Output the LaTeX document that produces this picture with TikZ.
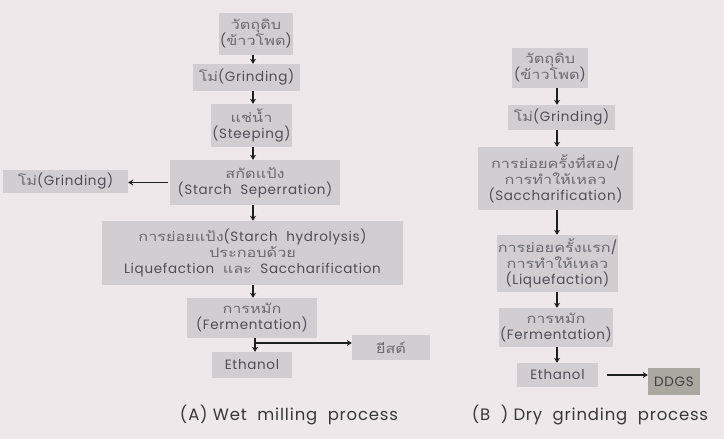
\documentclass[tikz,border=0pt]{standalone}
\usepackage{fontspec}
\setmainfont[LetterSpace=5]{Poppins}
\newfontfamily\thaifont[Script=Thai, FakeStretch=1.25]{Loma}
\newcommand{\thx}[1]{{\thaifont\fontsize{13}{16}\selectfont\color{thc}#1}}
\usetikzlibrary{arrows.meta,calc}
\definecolor{bg}{HTML}{EEE8EA}
\definecolor{boxc}{HTML}{D2CDD0}
\definecolor{ddg}{HTML}{ABA8A2}
\definecolor{txt}{HTML}{4E4E58}
\definecolor{thc}{HTML}{6A6A72}
\tikzset{
  stepbox/.style={fill=boxc, inner sep=1pt, align=center, text=txt, font=\fontsize{13.5}{16}\selectfont},
  flow/.style={-{Stealth[length=5pt,width=6pt]}, line width=1.5pt, black!88},
  captxt/.style={font=\fontsize{16.5}{18}\selectfont, text=black!78}
}
\begin{document}
\begin{tikzpicture}[x=1pt,y=-1pt]
\fill[bg] (0,0) rectangle (724,439);
\useasboundingbox (0,0) rectangle (724,439);
% (A)
\node[stepbox, minimum width=68pt, minimum height=42pt] (a1) at (256,34) {\thx{วัตถุดิบ}\\(\thx{ข้าวโพด})};
\node[stepbox, minimum width=107pt, minimum height=27pt] (a2) at (246.5,77.5) {\thx{โม่}(Grinding)};
\node[stepbox, minimum width=67pt, minimum height=43pt] (a3) at (251.5,125.5) {\thx{แช่น้ำ}\\(Steeping)};
\node[stepbox, minimum width=170pt, minimum height=45pt] (a4) at (255,182.5) {\thx{สกัดแป้ง}\\(Starch\ \ Seperration)};
\node[stepbox, minimum width=125pt, minimum height=23pt] (a4l) at (65.5,181.5) {\thx{โม่}(Grinding)};
\node[stepbox, minimum width=301pt, minimum height=64pt] (a5) at (252.5,253) {\thx{การย่อยแป้ง}(Starch\ \ hydrolysis)\\\thx{ประกอบด้วย}\\Liquefaction\ \ \thx{และ}\ \ Saccharification};
\node[stepbox, minimum width=130pt, minimum height=40pt] (a6) at (252,318) {\thx{การหมัก}\\(Fermentation)};
\node[stepbox, minimum width=80pt, minimum height=26pt] (a7) at (252,365) {Ethanol};
\node[stepbox, minimum width=78pt, minimum height=25pt] (a8) at (391,347.5) {\thx{ยีสต์}};
\draw[flow] (a1.south -| 253,0) -- (a2.north -| 253,0);
\draw[flow] (a2.south -| 253,0) -- (a3.north -| 253,0);
\draw[flow] (a3.south -| 253,0) -- (a4.north -| 253,0);
\draw[flow] (a4.west) ++(-2,0) coordinate (a4w) -- (a4l.east |- a4w);
\draw[flow] (a4.south -| 253,0) -- (a5.north -| 253,0);
\draw[flow] (a5.south -| 253,0) -- (a6.north -| 253,0);
\draw[flow] (a6.south -| 255,0) -- (a7.north -| 255,0);
\coordinate (j) at ($(a6.south -| 255,0)!0.35!(a7.north -| 255,0)$);
\draw[flow] (j) -- (j -| a8.west);
\node[captxt] (capA) at (289,415) {(A)\ Wet\ \ milling\ \ process};
% (B)
\node[stepbox, minimum width=76pt, minimum height=40pt] (b1) at (550,68) {\thx{วัตถุดิบ}\\(\thx{ข้าวโพด})};
\node[stepbox, minimum width=107pt, minimum height=25pt] (b2) at (561.5,117.5) {\thx{โม่}(Grinding)};
\node[stepbox, minimum width=155pt, minimum height=63pt] (b3) at (555.5,178.5) {\thx{การย่อยครั้งที่สอง}/\\\thx{การทำให้เหลว}\\(Saccharification)};
\node[stepbox, minimum width=101pt, minimum height=57pt] (b4) at (557.5,263.5) {\thx{การย่อยครั้งแรก}/\\\thx{การทำให้เหลว}\\(Liquefaction)};
\node[stepbox, minimum width=112pt, minimum height=39pt] (b5) at (556,327.5) {\thx{การหมัก}\\(Fermentation)};
\node[stepbox, minimum width=81pt, minimum height=24pt] (b6) at (557.5,375) {Ethanol};
\node[stepbox, fill=ddg, text=black!75, minimum width=52pt, minimum height=27pt] (b7) at (674,381.5) {DDGS};
\draw[flow] (b1.south -| 557,0) -- (b2.north -| 557,0);
\draw[flow] (b2.south -| 557,0) -- (b3.north -| 557,0);
\draw[flow] (b3.south -| 557,0) -- (b4.north -| 557,0);
\draw[flow] (b4.south -| 557,0) -- (b5.north -| 557,0);
\draw[flow] (b5.south -| 557,0) -- (b6.north -| 557,0);
\draw[flow, shorten <=9pt] (b6.east) -- (b6.east -| b7.west);
\node[captxt] (capB) at (590,415) {(B\ \ )\ Dry\ \ grinding\ \ process};
\end{tikzpicture}
\end{document}
